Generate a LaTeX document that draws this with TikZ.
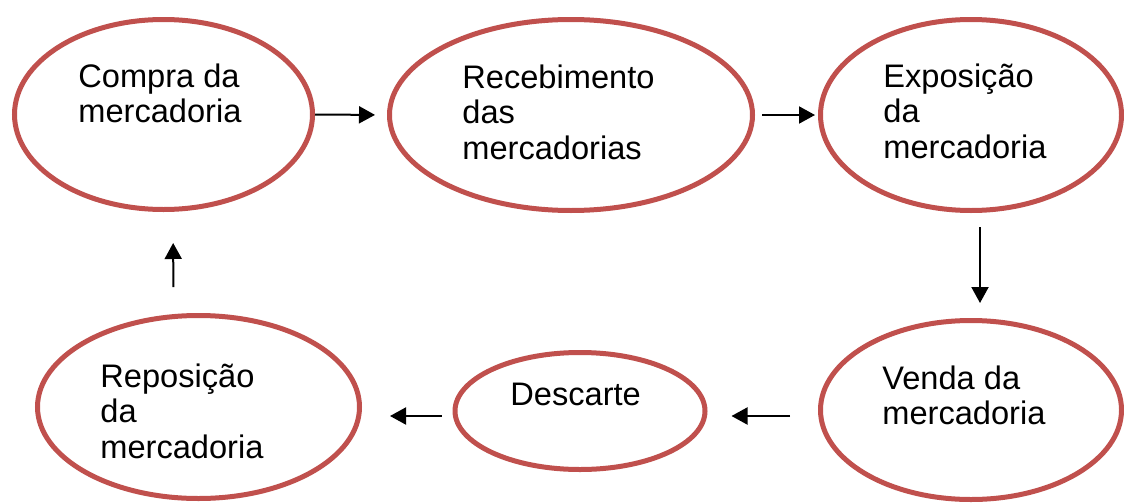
\documentclass[tikz,border=0pt]{standalone}
\usepackage{fontspec}
\setmainfont{Liberation Sans}
\usetikzlibrary{shapes.geometric,arrows.meta}
\definecolor{vermelho}{HTML}{C0504D}
\begin{document}
\begin{tikzpicture}[x=0.5pt,y=-0.5pt,
    etapa/.style={draw=vermelho, line width=2.5pt, ellipse, inner sep=0pt},
    texto/.style={anchor=north west, inner sep=0pt, align=left,
      font=\fontsize{16.3}{17.75}\selectfont},
    seta/.style={line width=1pt, -{Triangle[length=8pt,width=8.5pt]}}]
  \useasboundingbox (0,0) rectangle (1124,503);

  % etapas do ciclo
  \node[etapa, minimum width=149pt, minimum height=95pt] (compra) at (163.5,114.5) {};
  \node[etapa, minimum width=181.5pt, minimum height=95.5pt] (recebimento) at (571,115) {};
  \node[etapa, minimum width=150.5pt, minimum height=95.5pt] (exposicao) at (971,115) {};
  \node[etapa, minimum width=150.5pt, minimum height=89.5pt] (venda) at (971,410) {};
  \node[etapa, minimum width=125pt, minimum height=58.5pt] (descarte) at (580,411) {};
  \node[etapa, minimum width=161pt, minimum height=91.5pt] (reposicao) at (198.5,407) {};

  \node[texto] (compra-t) at (78,63) {Compra da\\mercadoria};
  \node[texto] (recebimento-t) at (462,64) {Recebimento\\das\\mercadorias};
  \node[texto] (exposicao-t) at (883,63) {Exposição\\da\\mercadoria};
  \node[texto] (venda-t) at (882,365) {Venda da\\mercadoria};
  \node[texto] (descarte-t) at (510,383) {Descarte};
  \node[texto] (reposicao-t) at (100,363) {Reposição\\da\\mercadoria};

  % setas
  \draw[seta, shorten >=6pt] (compra.east) -- (recebimento.west);
  \draw[seta, shorten <=3.5pt, shorten >=1.5pt] (recebimento.east) -- (exposicao.west);
  \draw[seta, shorten <=7pt, shorten >=7.5pt] ([xshift=4.5pt]exposicao.south) -- ([xshift=4.5pt]venda.north);
  \draw[seta, shorten <=14pt, shorten >=12pt] ([yshift=-3pt]venda.west) -- ([yshift=-2.5pt]descarte.east);
  \draw[seta, shorten <=5.5pt, shorten >=14pt] ([yshift=-2.5pt]descarte.west) -- ([yshift=-4.5pt]reposicao.east);
  \draw[seta, shorten <=13pt, shorten >=15.5pt] ([xshift=-12.5pt]reposicao.north) -- ([xshift=4.75pt]compra.south);
\end{tikzpicture}
\end{document}
